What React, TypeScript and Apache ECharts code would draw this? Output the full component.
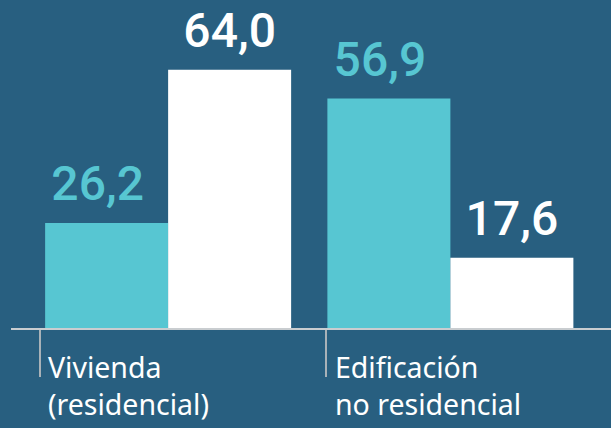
import React, { useEffect, useRef } from "react";
import * as echarts from "echarts";

const categories = ["Vivienda\n(residencial)", "Edificación\nno residencial"];
const seriesTeal = [26.2, 56.9];
const seriesWhite = [64.0, 17.6];

const BG = "#285f80";
const TEAL = "#57c6d2";
const WHITE = "#ffffff";

export default function App() {
  const ref = useRef<HTMLDivElement>(null);
  useEffect(() => {
    document.body.style.margin = "0";
    const chart = echarts.init(ref.current!, null, { renderer: "svg" });
    const fmt = (p: any) => p.value.toFixed(1).replace(".", ",");
    const axisY = 329;
    const tickXs = [40, 326];
    const labelXs = [48, 335];
    const graphics: any[] = [
      {
        type: "line",
        shape: { x1: 11, y1: axisY, x2: 611, y2: axisY },
        style: { stroke: "#c9cdd0", lineWidth: 2 },
        z: 10,
      },
    ];
    categories.forEach((c, i) => {
      graphics.push({
        type: "line",
        shape: { x1: tickXs[i], y1: axisY, x2: tickXs[i], y2: 377 },
        style: { stroke: "#a9b2b8", lineWidth: 2 },
      });
      graphics.push({
        type: "text",
        x: labelXs[i],
        y: 348,
        style: {
          text: c,
          fill: "#ffffff",
          font: "400 28.5px 'Noto Sans'",
          lineHeight: 37,
          textAlign: "left",
          textVerticalAlign: "top",
        },
      });
    });
    const valueLabel = (color: string, offset: number[]) => ({
      show: true,
      position: "top",
      distance: 15,
      formatter: fmt,
      color,
      fontFamily: "Roboto",
      fontWeight: 500,
      fontSize: 48,
      offset,
    });
    chart.setOption({
      animation: false,
      backgroundColor: BG,
      grid: { left: 27, right: 19.5, top: 5, bottom: 99 },
      xAxis: {
        type: "category",
        data: categories,
        axisLine: { show: false },
        axisTick: { show: false },
        axisLabel: { show: false },
      },
      yAxis: { type: "value", min: 0, max: 80, show: false, splitLine: { show: false } },
      graphic: graphics,
      series: [
        {
          type: "bar",
          data: seriesTeal,
          barWidth: 123,
          barGap: "0%",
          itemStyle: { color: TEAL },
          label: valueLabel(TEAL, [-9, 0]),
        },
        {
          type: "bar",
          data: seriesWhite,
          barWidth: 123,
          barGap: "0%",
          itemStyle: { color: WHITE },
          label: valueLabel(WHITE, [0, 0]),
        },
      ],
    });
    return () => chart.dispose();
  }, []);
  return <div ref={ref} style={{ width: 611, height: 428, position: "absolute", left: 0, top: 0 }} />;
}
